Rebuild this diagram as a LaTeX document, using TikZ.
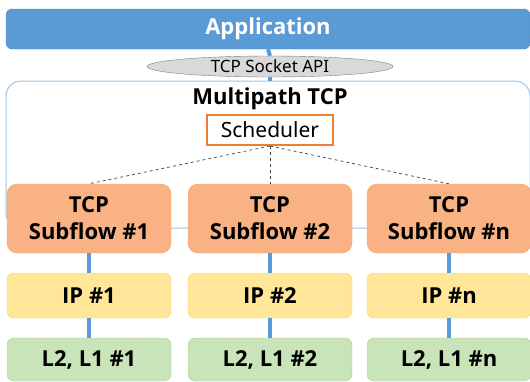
\documentclass[tikz,border=0pt]{standalone}
\usepackage{fontspec}
\IfFontExistsTF{Open Sans Bold}{\setmainfont{Noto Sans}[BoldFont={Open Sans Bold}]}{\setmainfont{Noto Sans}[BoldFont={DejaVu Sans Bold}]}
\usetikzlibrary{shapes.geometric}
\definecolor{appblue}{HTML}{5B9BD5}
\definecolor{appedge}{HTML}{4F8CC9}
\definecolor{ellfill}{HTML}{D9D9D9}
\definecolor{elledge}{HTML}{7F7F7F}
\definecolor{contedge}{HTML}{9DC3E6}
\definecolor{schededge}{HTML}{ED7D31}
\definecolor{subfill}{HTML}{F8B283}
\definecolor{subedge}{HTML}{F2A56E}
\definecolor{ipfill}{HTML}{FFE699}
\definecolor{ipedge}{HTML}{FFD54F}
\definecolor{lfill}{HTML}{C8E4B8}
\definecolor{ledge}{HTML}{A9D18E}
\tikzset{
  appbox/.style={draw=appedge, fill=appblue, rounded corners=6pt, minimum width=524pt, minimum height=40pt, inner sep=0pt, text=white, font=\fontsize{22}{26}\selectfont\bfseries},
  apiell/.style={ellipse, draw=elledge, fill=ellfill, minimum width=246pt, minimum height=21pt, inner sep=0pt, font=\fontsize{17}{20}\selectfont},
  contbox/.style={draw=contedge, line width=1pt, rounded corners=15pt, minimum width=524pt, minimum height=147pt, inner sep=0pt},
  schedbox/.style={draw=schededge, line width=2pt, fill=white, minimum width=126pt, minimum height=30pt, inner sep=0pt, font=\fontsize{21}{24}\selectfont},
  subbox/.style={draw=subedge, fill=subfill, rounded corners=10pt, minimum width=164pt, minimum height=69pt, inner sep=0pt, align=center, font=\fontsize{22}{27}\selectfont\bfseries},
  ipbox/.style={draw=ipedge, fill=ipfill, rounded corners=7pt, minimum width=164pt, minimum height=45pt, inner sep=0pt, font=\fontsize{22}{26}\selectfont\bfseries},
  lbox/.style={draw=ledge, fill=lfill, rounded corners=7pt, minimum width=164pt, minimum height=43pt, inner sep=0pt, font=\fontsize{22}{26}\selectfont\bfseries},
  bluelink/.style={draw=appblue, line width=4pt},
  schedlink/.style={draw=black!75, dashed, line width=0.7pt}
}
\begin{document}
\begin{tikzpicture}[x=1pt,y=-1pt]
\useasboundingbox (0,0) rectangle (530,381);
\clip (0,0) rectangle (530,381);
\node[contbox] (mp) at (268,154.5) {};
\node[appbox] (app) at (268,29) {Application};
\node[apiell] (api) at (270,66.5) {TCP Socket API};
\draw[bluelink] (app.south) -- (api.north);
\draw[bluelink] (api.south) -- (api.south |- mp.north);
\node[font=\fontsize{22}{26}\selectfont\bfseries] (mptitle) at (270,99) {Multipath TCP};
\node[schedbox] (sched) at (270,130) {Scheduler};
\node[subbox] (s1) at (89,218.5) {TCP\\Subflow \#1};
\node[subbox] (s2) at (270,218.5) {TCP\\Subflow \#2};
\node[subbox] (s3) at (449,218.5) {TCP\\Subflow \#n};
\node[ipbox] (ip1) at (89,295.5) {IP \#1};
\node[ipbox] (ip2) at (270,295.5) {IP \#2};
\node[ipbox] (ip3) at (449,295.5) {IP \#n};
\node[lbox] (l1) at (89,359.5) {L2, L1 \#1};
\node[lbox] (l2) at (270,359.5) {L2, L1 \#2};
\node[lbox] (l3) at (449,359.5) {L2, L1 \#n};
\draw[schedlink] (sched.south) -- (s1.north);
\draw[schedlink] (sched.south) -- (s2.north);
\draw[schedlink] (sched.south) -- (s3.north);
\foreach \i in {1,2,3}{
  \draw[bluelink] (s\i.south) -- (ip\i.north);
  \draw[bluelink] (ip\i.south) -- (l\i.north);
}
\end{tikzpicture}
\end{document}
